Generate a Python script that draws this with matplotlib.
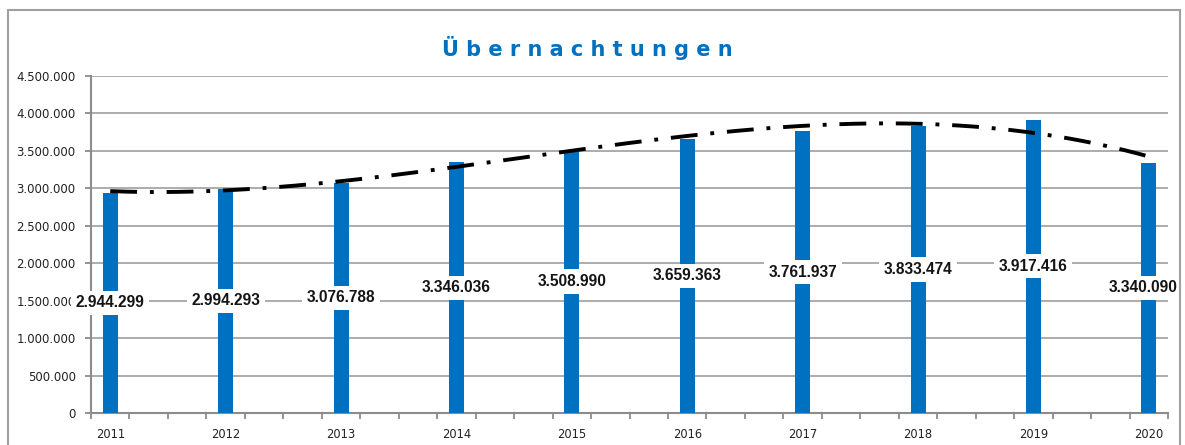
import matplotlib.pyplot as plt
import numpy as np
from matplotlib.patches import Rectangle
from matplotlib.ticker import FuncFormatter

# Übernachtungen pro Jahr
years = [2011, 2012, 2013, 2014, 2015, 2016, 2017, 2018, 2019, 2020]
values = [2944299, 2994293, 3076788, 3346036, 3508990, 3659363, 3761937, 3833474, 3917416, 3340090]
value_labels = ['2.944.299', '2.994.293', '3.076.788', '3.346.036', '3.508.990',
                '3.659.363', '3.761.937', '3.833.474', '3.917.416', '3.340.090']
title = 'Ü b e r n a c h t u n g e n'

blue = '#0070C0'
grid_gray = '#A6A6A6'

fig = plt.figure(figsize=(11.85, 4.45), dpi=100)
ax = fig.add_axes([0.0768, 0.0719, 0.9089, 0.7573])

x = np.array(years, dtype=float)
y = np.array(values, dtype=float)

ax.bar(x, y, width=0.13, color=blue, zorder=3)

# polynomial trend line (like the Excel trendline)
coef = np.polyfit(x - x[0], y, 3)
xs = np.linspace(x[0], x[-1], 300)
ax.plot(xs, np.polyval(coef, xs - x[0]), color='black', lw=2.8,
        linestyle=(0, (6.9, 3.3, 1.0, 3.3)), zorder=4)

# value labels in the middle of the bars
for i in range(len(years)):
    xpos = x[i]
    if i == len(years) - 1:
        xpos = x[i] - 0.05
    ax.text(xpos, y[i] / 2, value_labels[i], ha='center', va='center',
            fontsize=11.2, fontweight='bold', family='Liberation Sans',
            color='#141414', zorder=6, clip_on=False,
            bbox=dict(boxstyle='square,pad=0.3', fc='white', ec='none'))

ax.set_ylim(0, 4500000)
ax.set_yticks(np.arange(0, 4500001, 500000))
ax.yaxis.set_major_formatter(FuncFormatter(lambda v, p: f'{int(v):,}'.replace(',', '.')))
ax.set_xlim(years[0] - 1 / 6, years[-1] + 1 / 6)
ax.set_xticks(years)
ax.set_xticks(np.arange(years[0] - 1 / 6, years[-1] + 0.2, 1 / 3), minor=True)

ax.grid(axis='y', color=grid_gray, lw=1.3, zorder=0)
ax.set_axisbelow(True)
for s in ['top', 'right']:
    ax.spines[s].set_visible(False)
for s in ['left', 'bottom']:
    ax.spines[s].set_color('#8C8C8C')
    ax.spines[s].set_linewidth(1.5)
ax.tick_params(axis='y', length=4, width=1.3, color='#8C8C8C', pad=7,
               labelsize=8.5, labelcolor='#222222')
ax.tick_params(axis='x', which='major', length=0, pad=11, labelsize=8.3,
               labelcolor='#222222')
ax.tick_params(axis='x', which='minor', length=4, width=1.3, color='#8C8C8C')

fig.text(0.496, 0.892, title, ha='center', va='center', fontsize=15,
         fontweight='bold', color=blue)

# outer frame of the chart
fig.patches.append(Rectangle((0.007, -0.05), 0.9888, 1.028, transform=fig.transFigure,
                             fill=False, ec='#A0A0A0', lw=1.5))

fig.savefig('out.png', dpi=100)
